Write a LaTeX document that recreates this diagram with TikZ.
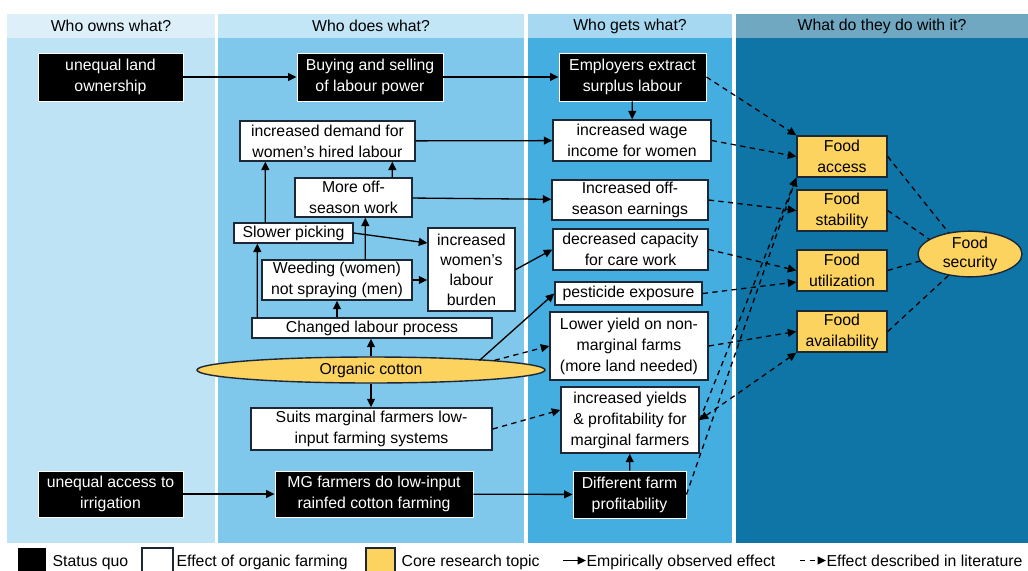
\documentclass[tikz,border=0pt]{standalone}
\usepackage{fontspec}
\setmainfont{Liberation Sans}
\usepackage{xcolor}
\usepackage{tikz}
\usetikzlibrary{arrows.meta,positioning,calc,shapes.geometric}
\definecolor{hdrA}{HTML}{DDF0FA}
\definecolor{hdrB}{HTML}{C3E6F6}
\definecolor{hdrC}{HTML}{A6D9F1}
\definecolor{hdrD}{HTML}{70A8C2}
\definecolor{colA}{HTML}{BDE3F5}
\definecolor{colB}{HTML}{7FC8EB}
\definecolor{colC}{HTML}{45AEE0}
\definecolor{colD}{HTML}{0E75A6}
\definecolor{coreY}{HTML}{FCD35F}
\definecolor{edge}{HTML}{1C2836}

\begin{document}
\begin{tikzpicture}[>={Triangle[length=1.7mm,width=1.6mm]}, font=\fontsize{9}{12}\selectfont, line width=0.75pt,
  quo/.style={draw=white, fill=black, text=white, align=center, inner sep=1pt, line width=0.5pt},
  eff/.style={draw=edge, fill=white, align=center, inner sep=1pt, line width=0.8pt},
  core/.style={draw=edge, fill=coreY, align=center, inner sep=1pt, line width=0.8pt, minimum width=18mm, minimum height=8.2mm},
  hdr/.style={minimum height=4.8mm, inner sep=0pt},
  lit/.style={dash pattern=on 3pt off 2.5pt}]
\useasboundingbox (0,0) rectangle (20.56,-11.4);
% columns
\node[hdr, fill=hdrA, minimum width=41.6mm] (h1) at (2.22,-0.52) {Who owns what?};
\node[hdr, fill=hdrB, minimum width=61.2mm] (h2) at (7.42,-0.52) {Who does what?};
\node[hdr, fill=hdrC, minimum width=40.8mm] (h3) at (12.60,-0.52) {Who gets what?};
\node[hdr, fill=hdrD, minimum width=58.4mm] (h4) at (17.64,-0.52) {What do they do with it?};
\fill[colA] (0.14,-0.76) rectangle (4.30,-10.86);
\fill[colB] (4.36,-0.76) rectangle (10.48,-10.86);
\fill[colC] (10.56,-0.76) rectangle (14.64,-10.86);
\fill[colD] (14.72,-0.76) rectangle (20.56,-10.86);
% boxes
\node[quo, minimum width=29mm, minimum height=9.6mm] (land) at (2.21,-1.54) {unequal land\\ownership};
\node[quo, minimum width=29.2mm, minimum height=9.6mm] (buy) at (7.40,-1.54) {Buying and selling\\of labour power};
\node[quo, minimum width=29.4mm, minimum height=9.6mm] (empl) at (12.65,-1.54) {Employers extract\\surplus labour};
\node[eff, minimum width=35mm, minimum height=8mm] (demand) at (6.55,-2.82) {increased demand for\\women's hired labour};
\node[eff, minimum width=31.6mm, minimum height=8.2mm] (wage) at (12.64,-2.81) {increased wage\\income for women};
\node[eff, minimum width=23.4mm, minimum height=7.8mm] (offwork) at (7.07,-3.95) {More off-\\season work};
\node[eff, minimum width=31.2mm, minimum height=8mm] (offearn) at (12.60,-4.00) {Increased off-\\season earnings};
\node[eff, minimum width=23.8mm, minimum height=4mm] (slow) at (5.87,-4.66) {Slower picking};
\node[eff, minimum width=17.4mm, minimum height=16.6mm, inner sep=0.5pt, font=\fontsize{9}{11.4}\selectfont] (burden) at (9.43,-5.39) {increased\\women's\\labour\\burden};
\node[eff, minimum width=31mm, minimum height=8.2mm] (care) at (12.61,-4.99) {decreased capacity\\for care work};
\node[eff, minimum width=30mm, minimum height=8mm] (weed) at (6.74,-5.60) {Weeding (women)\\not spraying (men)};
\node[eff, minimum width=29.4mm, minimum height=4.6mm] (pest) at (12.57,-5.87) {pesticide exposure};
\node[eff, minimum width=48mm, minimum height=4mm] (changed) at (7.44,-6.56) {Changed labour process};
\node[eff, minimum width=31.6mm, minimum height=13.6mm] (lower) at (12.58,-6.92) {Lower yield on non-\\marginal farms\\(more land needed)};
\node[core, ellipse, minimum width=69.6mm, minimum height=5.2mm, inner sep=0pt] (organic) at (7.42,-7.40) {Organic cotton};
\node[eff, minimum width=48.2mm, minimum height=8.4mm] (suits) at (7.43,-8.58) {Suits marginal farmers low-\\input farming systems};
\node[eff, minimum width=27.6mm, minimum height=13.2mm] (yields) at (12.60,-8.40) {increased yields\\\& profitability for\\marginal farmers};
\node[quo, minimum width=29mm, minimum height=9.2mm] (irrig) at (2.21,-9.88) {unequal access to\\irrigation};
\node[quo, minimum width=39.6mm, minimum height=9.2mm] (mg) at (7.48,-9.88) {MG farmers do low-input\\rainfed cotton farming};
\node[quo, minimum width=22.6mm, minimum height=9.4mm] (diff) at (12.59,-9.89) {Different farm\\profitability};
\node[core] (access) at (16.84,-3.13) {Food\\access};
\node[core] (stab) at (16.84,-4.21) {Food\\stability};
\node[core] (util) at (16.84,-5.41) {Food\\utilization};
\node[core] (avail) at (16.84,-6.63) {Food\\availability};
\node[core, ellipse, minimum width=20.8mm, minimum height=8.8mm, inner sep=-0.5pt, font=\fontsize{9}{11}\selectfont] (secur) at (19.40,-5.08) {Food\\security};
% observed effects
\draw[->] (land) -- (buy); \draw[->] (buy) -- (empl); \draw[->] (empl) -- (wage);
\draw[->] (demand) -- (wage); \draw[->] (offwork) -- (offearn);
\draw[->] ([xshift=19.6mm]offwork.north west) -- ([xshift=30.6mm]demand.south west);
\draw[->] ([xshift=6.4mm]slow.north west) -- ([xshift=5.2mm]demand.south west);
\draw[->] (slow.east) -- ([yshift=5.3mm]burden.west);
\draw[->] ([xshift=20.8mm]weed.north west) -- ([xshift=14.2mm]offwork.south west);
\draw[->] (weed.east) -- (weed.east -| burden.west);
\draw[->] ([xshift=1.2mm]changed.north west) -- ([xshift=4.8mm]slow.south west);
\draw[->] (changed.north -| weed.south) -- (weed.south);
\draw[->] (organic.north) -- (organic.north |- changed.south);
\draw[->] (organic.south) -- (organic.south |- suits.north);
\draw[->] (burden.east) -- (care.west);
\draw[->] ([xshift=-3mm]organic.north east) -- (pest.west);
\draw[->] (irrig) -- (mg); \draw[->] (mg) -- (diff); \draw[->] (diff) -- (yields);
% effects from literature
\draw[->, lit] (organic.north east) -- (lower.west);
\draw[->, lit] (suits.east) -- ([yshift=2mm]yields.west);
\draw[->, lit] (empl.east) -- (access.north west);
\draw[->, lit] (wage.east) -- (access.west);
\draw[->, lit] (offearn.east) -- (stab.west);
\draw[->, lit] (care.east) -- (util.west);
\draw[->, lit] (pest.east) -- ([yshift=-2.3mm]util.west);
\draw[->, lit] (lower.east) -- (avail.west);
\draw[<->, lit] (yields.east) -- (avail.south west);
\draw[->, lit] (yields.east) -- (access.south west);
\draw[->, lit] (diff.east) -- (access.south west);
\draw[lit] (access.east) -- (secur.135); \draw[lit] (stab.east) -- (secur.160);
\draw[lit] (util.east) -- (secur.188); \draw[lit] (avail.east) -- (secur.225);
% legend
\node[fill=black, minimum width=5.6mm, minimum height=6.4mm, inner sep=0pt] (kq) at (0.64,-11.28) {};
\node[anchor=base west, inner sep=0pt] (kqt) at (1.04,-11.32) {Status quo};
\node[draw=edge, fill=white, line width=0.6pt, minimum width=6.2mm, minimum height=6.4mm, inner sep=0pt] (ke) at (3.15,-11.28) {};
\node[anchor=base west, inner sep=0pt] (ket) at (3.52,-11.32) {Effect of organic farming};
\node[draw=edge, fill=coreY, line width=0.6pt, minimum width=5.8mm, minimum height=6.4mm, inner sep=0pt] (kc) at (7.61,-11.28) {};
\node[anchor=base west, inner sep=0pt] (kct) at (8.02,-11.32) {Core research topic};
\coordinate (ka) at (11.26,-11.21);
\node[anchor=base west, inner sep=0pt] (kat) at (11.72,-11.32) {Empirically observed effect};
\draw[->] (ka) -- (ka -| kat.west);
\coordinate (kl) at (16.00,-11.21);
\node[anchor=base west, inner sep=0pt] (klt) at (16.52,-11.32) {Effect described in literature};
\draw[->, lit] (kl) -- (kl -| klt.west);
\end{tikzpicture}
\end{document}
